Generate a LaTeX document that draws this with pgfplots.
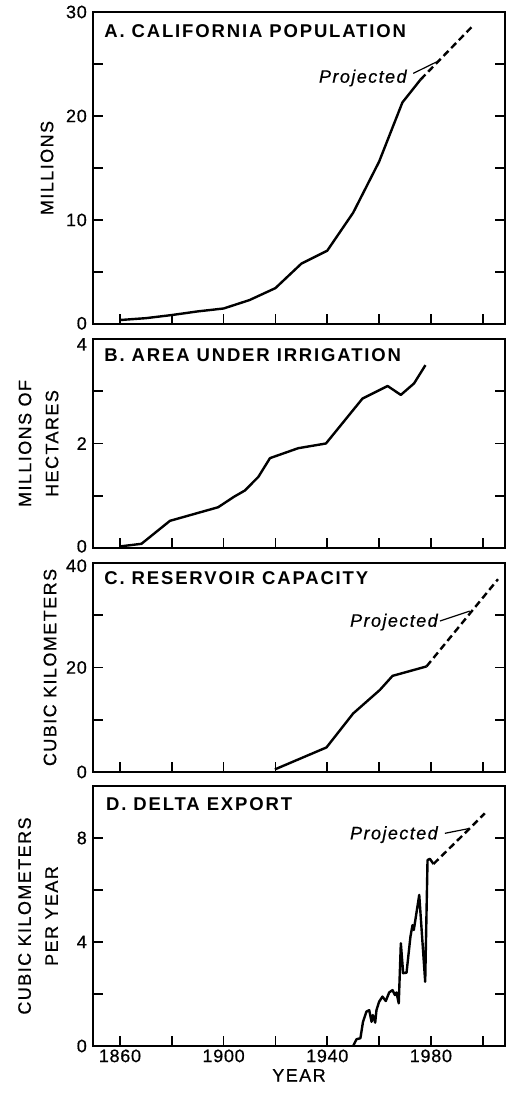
\documentclass[border=0pt]{standalone}
\usepackage{pgfplots}
\pgfplotsset{compat=1.18}
\usepackage{fontspec}
\setmainfont{Liberation Sans}
\newfontfamily\titlefont[LetterSpace=10]{Liberation Sans}
\newfontfamily\labfont[LetterSpace=8,FakeBold=0.6]{Liberation Sans}
\newfontfamily\tickfont[LetterSpace=4,FakeBold=0.6]{Liberation Sans}

\pgfplotsset{
  panel/.style={
    scale only axis, width=412pt, xmin=1849.6, xmax=2008.6,
    axis line style={line width=1.8pt},
    tick align=inside, major tick length=10pt,
    every tick/.style={black, line width=1.6pt},
    xtick={1860,1880,...,2000},
    xticklabels={},
    xtick pos=lower, ytick pos=both, yticklabel pos=left,
    ticklabel style={font=\tickfont\fontsize{18}{20}\selectfont},
    yticklabel style={inner xsep=6pt, inner ysep=0pt},
    ylabel style={font=\labfont\fontsize{18}{27}\selectfont, at={(axis description cs:0,0.5)}, anchor=center, align=center},
    xlabel style={font=\labfont\fontsize{18}{21}\selectfont},
    clip=false, anchor=south west,
  },
  dataline/.style={black, line width=2.4pt, line join=round},
  proj/.style={black, line width=2.4pt, dash pattern=on 7pt off 4pt},
}
\tikzset{
  ttl/.style={font=\titlefont\bfseries\fontsize{18.5}{20}\selectfont, anchor=base west, inner sep=0pt},
  projlab/.style={font=\labfont\itshape\fontsize{18}{20}\selectfont, anchor=base east, inner sep=0pt},
}

\begin{document}
\begin{tikzpicture}
\useasboundingbox (0,0) rectangle (506pt,1094pt);

% Panel A
\begin{axis}[panel, at={(93pt,770pt)}, height=312pt,
  ymin=0, ymax=30, ytick={0,5,...,30}, yticklabels={\raisebox{1pt}[13pt][0pt]{0},,10,,20,,30},
  ylabel={MILLIONS}, ylabel style={yshift=46pt}]
\addplot[dataline] coordinates {(1860,0.38) (1870,0.56) (1880,0.86) (1890,1.21) (1900,1.49) (1910,2.3) (1920,3.45) (1930,5.8) (1940,7.05) (1950,10.7) (1960,15.6) (1969,21.3) (1976,23.5)};
\addplot[proj] coordinates {(1976,23.5) (1996.3,28.7)};
\node[ttl] at (axis cs:1853.9,27.5) {A.\ CALIFORNIA\ POPULATION};
\node[projlab] at (axis cs:1970.7,23.2) {Projected};
\draw[line width=1.2pt] (axis cs:1973.2,24.1) -- (axis cs:1982.2,25.2);
\end{axis}

% Panel B
\begin{axis}[panel, at={(93pt,546pt)}, height=209pt,
  ymin=0, ymax=4, ytick={0,1,...,4}, yticklabels={\raisebox{2pt}[13pt][0pt]{0},,2,,\raisebox{-5pt}[13pt][0pt]{4}},
  ylabel={MILLIONS OF\\HECTARES}, ylabel style={yshift=54.5pt}]
\addplot[dataline] coordinates {(1860,0.03) (1868.3,0.08) (1879.3,0.52) (1897.9,0.78) (1904,0.98) (1908.2,1.10) (1913.4,1.36) (1917.9,1.72) (1928.8,1.91) (1939.5,2.00) (1953.6,2.86) (1963.3,3.10) (1968.4,2.93) (1973.5,3.15) (1977.9,3.50)};
\node[ttl] at (axis cs:1853.9,3.56) {B.\ AREA\ UNDER\ IRRIGATION};
\end{axis}

% Panel C
\begin{axis}[panel, at={(93pt,322pt)}, height=209pt,
  ymin=0, ymax=40, ytick={0,10,...,40}, yticklabels={0,,20,,\raisebox{-2.5pt}[13pt][0pt]{40}},
  ylabel={CUBIC KILOMETERS}, ylabel style={yshift=43pt}]
\addplot[dataline] coordinates {(1919.8,0.5) (1939.7,4.7) (1950,11.2) (1960.3,15.7) (1965.2,18.4) (1978.3,20.2)};
\addplot[proj] coordinates {(1978.3,20.2) (2005.9,36.9)};
\node[ttl] at (axis cs:1853.9,35.8) {C.\ RESERVOIR\ CAPACITY};
\node[projlab] at (axis cs:1982.7,27.8) {Projected};
\draw[line width=1.2pt] (axis cs:1983.5,28.9) -- (axis cs:1995.0,30.8);
\end{axis}

% Panel D
\begin{axis}[panel, at={(93pt,48pt)}, height=260pt,
  ymin=0, ymax=10, ytick={0,2,...,10}, yticklabels={0,,4,,8,},
  xticklabels={1860,,1900,,1940,,1980,},
  xlabel={YEAR},
  ylabel={CUBIC KILOMETERS\\PER YEAR}, ylabel style={yshift=55pt}]
\addplot[dataline] coordinates {(1950.0,0) (1951.3,0.26) (1952.8,0.3) (1953.8,0.93) (1955.1,1.32) (1956.2,1.38) (1957.1,0.93) (1957.6,1.19) (1958.5,0.9) (1959.0,1.38) (1960.0,1.70) (1961.3,1.90) (1962.6,1.73) (1963.9,2.06) (1965.2,2.15) (1966.1,1.96) (1966.7,2.06) (1967.6,1.64) (1968.4,3.95) (1969.3,2.80) (1970.6,2.82) (1972.1,4.20) (1972.9,4.65) (1973.4,4.46) (1975.5,5.81) (1977.8,2.47) (1978.7,7.15) (1979.6,7.2) (1981,7.0)};
\addplot[proj] coordinates {(1981,7.0) (1995,8.37) (2000.8,8.95)};
\node[ttl] at (axis cs:1854.6,9.04) {D.\ DELTA\ EXPORT};
\node[projlab] at (axis cs:1982.7,7.95) {Projected};
\draw[line width=1.2pt] (axis cs:1985.4,8.18) -- (axis cs:1995.0,8.37);
\end{axis}
\end{tikzpicture}
\end{document}
